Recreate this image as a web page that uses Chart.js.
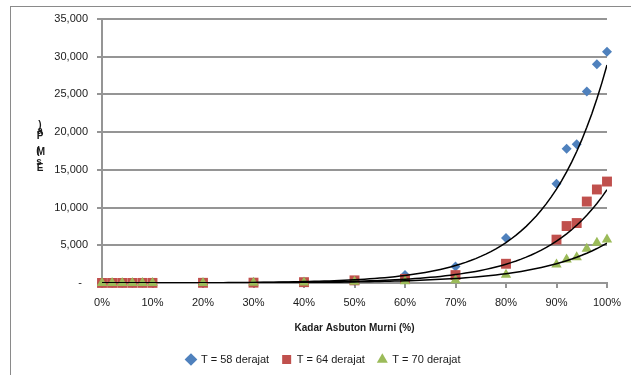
<!DOCTYPE html>
<html>
<head>
<meta charset="utf-8">
<script src="https://cdn.jsdelivr.net/npm/chart.js@4.4.1/dist/chart.umd.min.js"></script>
<style>
  html, body { margin: 0; padding: 0; background: #fff; }
  #wrap { width: 631px; height: 375px; }
</style>
</head>
<body>
<div id="wrap"><canvas id="myChart" width="631" height="375"></canvas></div>
<script>
// Kadar asbuton murni (%) per sample
var kadar = [0, 2, 4, 6, 8, 10, 20, 30, 40, 50, 60, 70, 80, 90, 92, 94, 96, 98, 100];

// EMP per temperature
var emp58 = [10, 12, 14, 16, 18, 22, 35, 60, 120, 280, 1050, 2200, 5950, 13150, 17800, 18400, 25400, 29000, 30650];
var emp64 = [6, 7, 8, 10, 12, 14, 25, 45, 110, 350, 550, 1050, 2550, 5750, 7550, 7950, 10800, 12400, 13450];
var emp70 = [4, 5, 6, 7, 8, 9, 15, 30, 70, 160, 220, 380, 1100, 2450, 3120, 3400, 4550, 5320, 5780];

var seriesLabels = ['T = 58 derajat', 'T = 64 derajat', 'T = 70 derajat'];

// exponential trendlines y = a * e^(b * x), x as fraction
var trendA = [6.37, 4.07, 3.75];
var trendB = [8.42, 8.02, 7.25];

var yTicks = [0, 5000, 10000, 15000, 20000, 25000, 30000, 35000];
var xTicks = [0, 10, 20, 30, 40, 50, 60, 70, 80, 90, 100];

var textColor = '#1a1a1a';
var gridColor = '#959595';

function points(values) {
    return kadar.map(function (k, i) { return { x: k, y: values[i] }; });
}

function trend(a, b) {
    var out = [];
    for (var k = 0; k <= 100; k++) {
        out.push({ x: k, y: a * Math.exp(b * k / 100) });
    }
    return out;
}

// outer frame plus the stacked y title
var frame = {
    id: 'frame',
    beforeDraw: function (chart) {
        var c = chart.ctx;
        c.save();
        c.strokeStyle = '#8a8a8a';
        c.lineWidth = 1;
        c.strokeRect(10.5, 6.5, 700, 500);
        c.restore();
    },
    afterDraw: function (chart) {
        var c = chart.ctx;
        c.save();
        c.fillStyle = textColor;
        c.font = 'bold 10px "Liberation Sans"';
        c.textAlign = 'center';
        c.textBaseline = 'middle';
        [[')', 40, 125], ['a', 40, 131], ['P', 40, 136], ['(', 38, 151], ['M', 41, 152], ['s', 39, 162], ['E', 40, 168]].forEach(function (t) {
            c.fillText(t[0], t[1], t[2]);
        });
        c.restore();
    }
};

var ctx = document.getElementById('myChart');

new Chart(ctx, {
    data: {
        datasets: [
            { type: 'scatter', label: seriesLabels[0], data: points(emp58), pointStyle: 'rectRot', pointRadius: 5, pointHoverRadius: 5,
              backgroundColor: '#4F81BD', borderColor: '#4F81BD', borderWidth: 0, order: 3, clip: false },
            { type: 'scatter', label: seriesLabels[1], data: points(emp64), pointStyle: 'rect', pointRadius: 7, pointHoverRadius: 7,
              backgroundColor: '#C0504D', borderColor: '#C0504D', borderWidth: 0, order: 2, clip: false },
            { type: 'scatter', label: seriesLabels[2], data: points(emp70), pointStyle: 'triangle', pointRadius: 6, pointHoverRadius: 6,
              backgroundColor: '#9BBB59', borderColor: '#9BBB59', borderWidth: 0, order: 1, clip: false },
            { type: 'line', label: 'trend58', data: trend(trendA[0], trendB[0]), borderColor: '#000', borderWidth: 1.5, pointRadius: 0, tension: 0, order: 0 },
            { type: 'line', label: 'trend64', data: trend(trendA[1], trendB[1]), borderColor: '#000', borderWidth: 1.5, pointRadius: 0, tension: 0, order: 0 },
            { type: 'line', label: 'trend70', data: trend(trendA[2], trendB[2]), borderColor: '#000', borderWidth: 1.5, pointRadius: 0, tension: 0, order: 0 }
        ]
    },
    options: {
        responsive: false,
        animation: false,
        layout: { padding: { left: 40, right: 24, top: 19, bottom: 0 } },
        scales: {
            x: {
                type: 'linear',
                min: 0,
                max: 100,
                afterBuildTicks: function (scale) { scale.ticks = xTicks.map(function (v) { return { value: v }; }); },
                afterFit: function (scale) { scale.height = 58; },
                grid: { drawOnChartArea: false, color: gridColor, lineWidth: 2, tickLength: 5 },
                border: { color: gridColor, width: 2 },
                ticks: {
                    color: textColor,
                    font: { family: 'Liberation Sans', size: 11 },
                    padding: 8,
                    maxRotation: 0,
                    callback: function (v) { return v + '%'; }
                },
                title: {
                    display: true,
                    text: 'Kadar Asbuton Murni (%)',
                    color: textColor,
                    font: { family: 'Liberation Sans', size: 10, weight: 'bold' },
                    padding: { top: 0, bottom: 7 }
                }
            },
            y: {
                type: 'linear',
                min: 0,
                max: 35000,
                afterBuildTicks: function (scale) { scale.ticks = yTicks.map(function (v) { return { value: v }; }); },
                afterFit: function (scale) { scale.width = 62; },
                grid: { color: gridColor, lineWidth: 2, tickLength: 5 },
                border: { color: gridColor, width: 2 },
                ticks: {
                    color: textColor,
                    font: { family: 'Liberation Sans', size: 11 },
                    padding: 9,
                    callback: function (v) { return v === 0 ? '-  ' : v.toLocaleString('en-US'); }
                }
            }
        },
        plugins: {
            legend: {
                position: 'bottom',
                labels: {
                    color: textColor,
                    font: { family: 'Liberation Sans', size: 11 },
                    usePointStyle: true,
                    boxWidth: 9,
                    boxHeight: 9,
                    padding: 13,
                    sort: function (a, b) { return a.datasetIndex - b.datasetIndex; },
                    filter: function (item) { return item.text.indexOf('trend') !== 0; }
                }
            },
            tooltip: { enabled: false }
        }
    },
    plugins: [frame]
});
</script>
</body>
</html>
